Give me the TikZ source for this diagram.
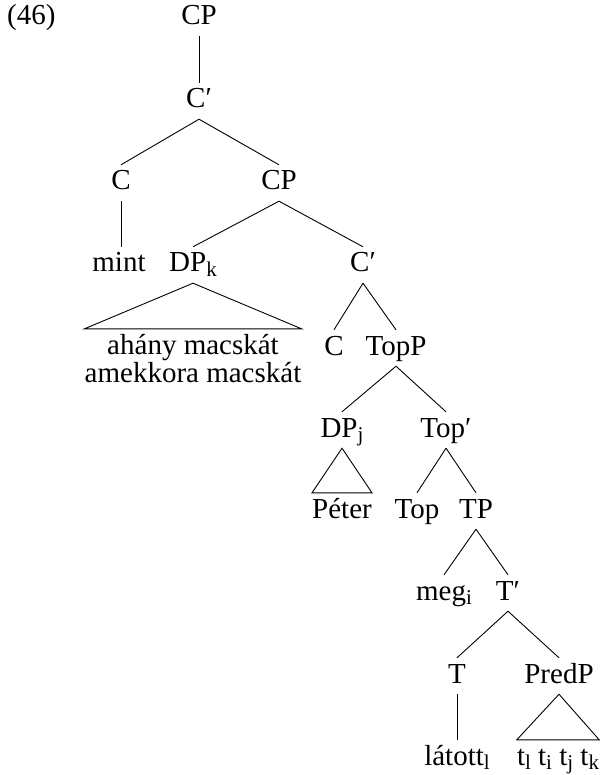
\documentclass[tikz,border=0pt]{standalone}
\usepackage{fontspec}
\setmainfont{Liberation Serif}
\begin{document}
\begin{tikzpicture}[x=1pt,y=-1pt,
  lab/.style={anchor=base, inner xsep=0pt, inner ysep=6pt, text height=19pt, text depth=5pt,
              font=\fontsize{29}{31}\selectfont},
  edge/.style={line width=0.9pt, line join=miter}]
\useasboundingbox (0,0) rectangle (605,775);
\newcommand{\mysub}[1]{\raisebox{-4.5pt}{\fontsize{21}{23}\selectfont #1}}
\node[lab, anchor=base west] (ex) at (7,25) {(46)};
\node[lab] (cp1) at (199,25) {CP};
\node[lab] (cbar1) at (199,108) {C′};
\node[lab] (c1) at (121,190) {C};
\node[lab] (cp2) at (279,190) {CP};
\node[lab] (mint) at (119,272) {mint};
\node[lab] (dpk) at (193,272) {DP\mysub{k}};
\node[lab] (roofa) at (193,354) {ahány macskát};
\node[lab] (roofb) at (193,382) {amekkora macskát};
\node[lab] (cbar2) at (363,272) {C′};
\node[lab] (c2) at (334,355) {C};
\node[lab] (topp) at (396,355) {TopP};
\node[lab] (dpj) at (342,437) {DP\mysub{j}};
\node[lab] (topbar) at (446,437) {Top′};
\node[lab] (peter) at (342,518) {Péter};
\node[lab] (top) at (417,518) {Top};
\node[lab] (tp) at (476,518) {TP};
\node[lab] (meg) at (444,600) {meg\mysub{i}};
\node[lab] (tbar) at (508,600) {T′};
\node[lab] (t) at (457,683) {T};
\node[lab] (predp) at (559,683) {PredP};
\node[lab] (latott) at (457,765) {látott\mysub{l}};
\node[lab] (traces) at (558,765) {t\mysub{l} t\mysub{i} t\mysub{j} t\mysub{k}};

\draw[edge] (cp1.south) -- (cbar1.north);
\draw[edge] (cbar1.south) -- (c1.north);
\draw[edge] (cbar1.south) -- (cp2.north);
\draw[edge] (c1.south) -- (c1.south |- mint.north);
\draw[edge] (cp2.south) -- (dpk.north);
\draw[edge] (cp2.south) -- (cbar2.north);
\draw[edge] (dpk.south) -- (roofb.west |- roofa.north) -- (roofb.east |- roofa.north) -- cycle;
\draw[edge] (cbar2.south) -- (c2.north);
\draw[edge] (cbar2.south) -- (topp.north);
\draw[edge] (topp.south) -- (dpj.north);
\draw[edge] (topp.south) -- (topbar.north);
\draw[edge] (dpj.south) -- (peter.north west) -- (peter.north east) -- cycle;
\draw[edge] (topbar.south) -- (top.north);
\draw[edge] (topbar.south) -- (tp.north);
\draw[edge] (tp.south) -- (meg.north);
\draw[edge] (tp.south) -- (tbar.north);
\draw[edge] (tbar.south) -- (t.north);
\draw[edge] (tbar.south) -- (predp.north);
\draw[edge] (t.south) -- (latott.north);
\draw[edge] (predp.south) -- (traces.north west) -- (traces.north east) -- cycle;
\end{tikzpicture}
\end{document}
